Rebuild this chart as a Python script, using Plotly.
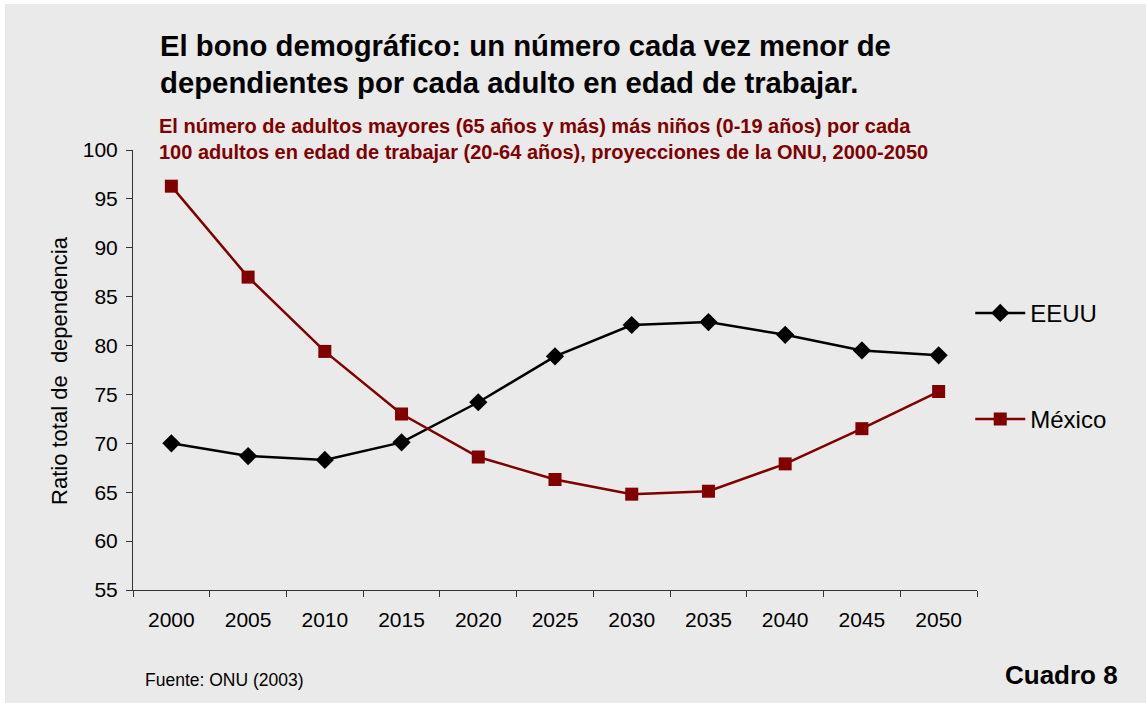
import plotly.graph_objects as go

# datos
years = ["2000", "2005", "2010", "2015", "2020", "2025", "2030", "2035", "2040", "2045", "2050"]
eeuu = [70.0, 68.7, 68.3, 70.1, 74.2, 78.9, 82.1, 82.4, 81.1, 79.5, 79.0]
mexico = [96.3, 87.0, 79.4, 73.0, 68.6, 66.3, 64.8, 65.1, 67.9, 71.5, 75.3]

BG = "#eaeaea"
RED = "#800000"
FONT = "Liberation Sans, Arial, sans-serif"

fig = go.Figure()

fig.add_trace(go.Scatter(
    x=years, y=eeuu, name="EEUU", mode="lines+markers", legendgroup="a",
    line=dict(color="black", width=2.5),
    marker=dict(symbol="diamond", size=14, color="black"),
))
fig.add_trace(go.Scatter(
    x=years, y=mexico, name="México", mode="lines+markers", legendgroup="b",
    line=dict(color=RED, width=2.5),
    marker=dict(symbol="square", size=13, color=RED),
))

fig.update_layout(
    width=1141, height=699,
    margin=dict(l=128, r=169, t=146, b=113),
    paper_bgcolor=BG, plot_bgcolor=BG,
    font=dict(family=FONT, color="black"),
    showlegend=True,
    legend=dict(
        x=0.992, xanchor="left", y=0.68, yanchor="top",
        font=dict(size=24), tracegroupgap=72, itemwidth=50,
        bgcolor="rgba(0,0,0,0)",
    ),
    xaxis=dict(
        type="category", range=[-0.5, len(years) - 0.5],
        tickson="boundaries", ticks="outside", ticklen=6,
        tickcolor="#333", showline=True, linecolor="#333", linewidth=1,
        showgrid=False, zeroline=False, tickfont=dict(size=21),
        ticklabelstandoff=11,
    ),
    yaxis=dict(
        range=[55, 100], dtick=5, ticks="outside", ticklen=6,
        tickcolor="#333", showline=True, linecolor="#333", linewidth=1,
        showgrid=False, zeroline=False, tickfont=dict(size=21),
        ticklabelstandoff=4,
    ),
)

def note(text, x, y, size, color="black", bold=False, xanchor="left", angle=0):
    if bold:
        text = "<b>" + text + "</b>"
    fig.add_annotation(text=text, x=x, y=y, xref="paper", yref="paper",
                       xanchor=xanchor, yanchor="middle", showarrow=False,
                       textangle=angle, font=dict(size=size, color=color, family=FONT))

note("El bono demográfico: un número cada vez menor de", 0.030, 1.2386, 29.3, bold=True)
note("dependientes por cada adulto en edad de trabajar.", 0.030, 1.1545, 29.3, bold=True)
note("El número de adultos mayores (65 años y más) más niños (0-19 años) por cada",
     0.028, 1.0545, 20, color=RED, bold=True)
note("100 adultos en edad de trabajar (20-64 años), proyecciones de la ONU, 2000-2050",
     0.028, 0.9955, 20, color=RED, bold=True)
note("Ratio total de  dependencia", -0.0877, 0.5, 22, xanchor="center", angle=-90)
note("Fuente: ONU (2003)", 0.0118, -0.2045, 17.5)
note("Cuadro 8", 1.031, -0.193, 26, bold=True)

fig.write_html("out.html", post_script="document.body.style.margin='4px 0 0 5px';")
